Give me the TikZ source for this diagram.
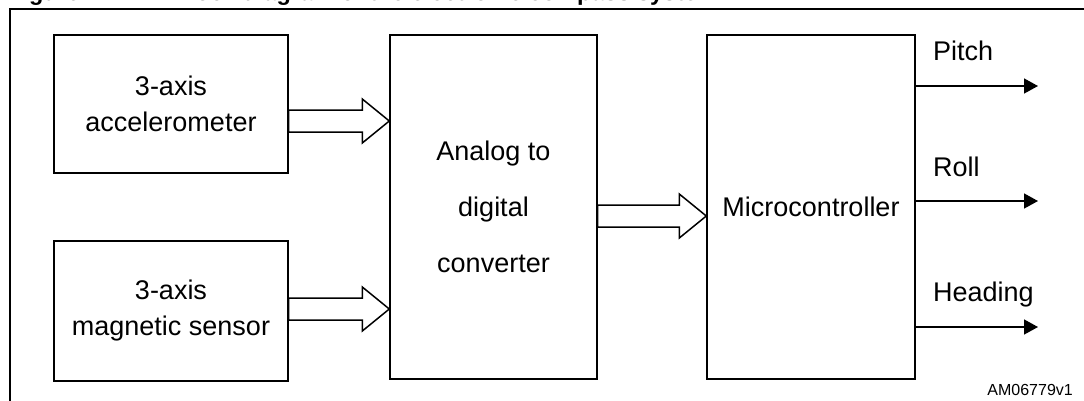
\documentclass[tikz,border=0pt]{standalone}
\usepackage{fontspec}
\setmainfont{Liberation Sans}
\usepackage{tikz}
\usetikzlibrary{arrows.meta}
\usetikzlibrary{calc}

\begin{document}
\begin{tikzpicture}[x=1pt,y=-1pt]
	\useasboundingbox (0,0) rectangle (1084,400);
	% caption, cut by the page edge
	\begin{scope}[every node/.style = {inner sep=0, anchor=base west,
			font=\bfseries\fontsize{23.5}{28}\selectfont}]
		\node (fig) at (8,0) {Figure 1.};
		\node (cap) at (172,0) {Block diagram of the electronic compass system};
	\end{scope}
	\draw [line width=2.3pt] (10,410) -- (10,9) -- (1095,9);
	\begin{scope}[every node/.style = {rectangle, draw, line width=1.4pt,
			inner sep=0, align=center, font=\fontsize{27}{36}\selectfont}]
		\node [minimum width=234pt, minimum height=138pt] (acc) at (171,104) {3-axis\\accelerometer};
		\node [minimum width=234pt, minimum height=140pt] (mag) at (171,311) {3-axis\\magnetic sensor};
		\node [minimum width=207pt, minimum height=344pt,
			font=\fontsize{27}{56}\selectfont] (adc) at (493.5,207) {Analog to\\digital\\converter};
		\node [minimum width=208pt, minimum height=344pt] (mcu) at (811,207) {Microcontroller};
	\end{scope}
	\begin{scope}[every node/.style = {inner sep=0, anchor=base west,
			font=\fontsize{27}{32}\selectfont}]
		\node (pitch) at (933,60) {Pitch};
		\node (roll) at (933,176) {Roll};
		\node (heading) at (933,301) {Heading};
	\end{scope}
	\node [inner sep=0, anchor=base east, font=\fontsize{16}{19}\selectfont] (code) at (1073,395) {AM06779v1};
	\coordinate (upper) at (0,121);
	\coordinate (lower) at (0,309);
	\coordinate (middle) at (0,216);
	\coordinate (p1) at (1038,86);
	\coordinate (p2) at (1038,201);
	\coordinate (p3) at (1038,327);
	% hollow bus arrows
	\begin{scope}[every edge/.style={draw=black, line width=1.5pt, line join=miter,
			to path={let \p1=(\tikztostart), \p2=(\tikztotarget) in
				(\x1,\y1+11pt) -- (\x2-27pt,\y1+11pt) -- (\x2-27pt,\y1+22pt) -- (\x2,\y2)
				-- (\x2-27pt,\y1-22pt) -- (\x2-27pt,\y1-11pt) -- (\x1,\y1-11pt) -- cycle}}]
		\path (acc.east |- upper) edge (adc.west |- upper);
		\path (mag.east |- lower) edge (adc.west |- lower);
		\path (adc.east |- middle) edge (mcu.west |- middle);
	\end{scope}
	\begin{scope}[>={Triangle[length=14pt, width=15pt]},
			every edge/.style={draw=black, line width=1.5pt}]
		\path [->] (mcu.east |- p1) edge (p1);
		\path [->] (mcu.east |- p2) edge (p2);
		\path [->] (mcu.east |- p3) edge (p3);
	\end{scope}
\end{tikzpicture}
\end{document}
